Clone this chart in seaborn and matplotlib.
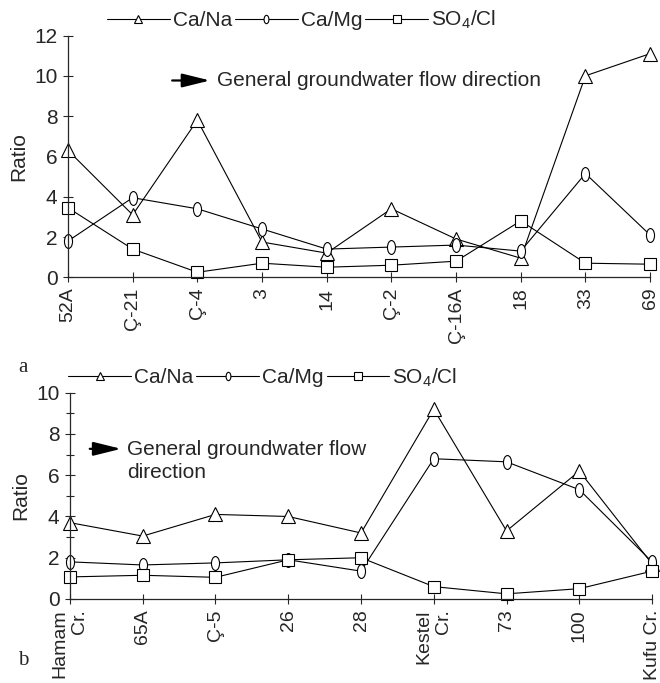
import matplotlib
matplotlib.use("Agg")
import matplotlib.pyplot as plt
import seaborn as sns
import pandas as pd
from matplotlib.path import Path
from matplotlib.transforms import Affine2D
from matplotlib.ticker import MultipleLocator

# Panel a: sites along the flow path
sitios_a = ['52A', 'Ç-21', 'Ç-4', '3', '14', 'Ç-2', 'Ç-16A', '18', '33', '69']
ca_na_a = [6.3, 3.1, 7.8, 1.75, 1.2, 3.4, 1.9, 0.95, 10.0, 11.1]
ca_mg_a = [1.8, 3.95, 3.4, 2.4, 1.4, 1.5, 1.6, 1.3, 5.15, 2.1]
so4_cl_a = [3.45, 1.4, 0.25, 0.7, 0.5, 0.6, 0.8, 2.8, 0.7, 0.65]

# Panel b
sitios_b = ['Hamam\nCr.', '65A', 'Ç-5', '26', '28', 'Kestel\nCr.', '73', '100', 'Kufu Cr.']
ca_na_b = [3.7, 3.05, 4.1, 4.0, 3.2, 9.2, 3.3, 6.2, 1.7]
ca_mg_b = [1.8, 1.65, 1.75, 1.9, 1.35, 6.8, 6.65, 5.3, 1.8]
so4_cl_b = [1.07, 1.15, 1.05, 1.9, 2.0, 0.6, 0.25, 0.5, 1.35]

series = ['Ca/Na', 'Ca/Mg', 'SO$_4$/Cl']

sns.set_style("ticks")
plt.rcParams['font.family'] = ['Liberation Sans', 'DejaVu Sans']
plt.rcParams['mathtext.default'] = 'regular'

# marcador eliptico para Ca/Mg
elipse = Path.unit_circle().transformed(Affine2D().scale(0.58, 1.0))
marcadores = {'Ca/Na': '^', 'Ca/Mg': elipse, 'SO$_4$/Cl': 's'}


def armar_df(sitios, a, b, c):
    return pd.DataFrame({
        'sitio': sitios * 3,
        'valor': a + b + c,
        'ratio': [series[0]] * len(sitios) + [series[1]] * len(sitios) + [series[2]] * len(sitios),
    })


df_a = armar_df(sitios_a, ca_na_a, ca_mg_a, so4_cl_a)
df_b = armar_df(sitios_b, ca_na_b, ca_mg_b, so4_cl_b)

fig = plt.figure(figsize=(6.6, 6.83), dpi=100)
ax1 = fig.add_axes([0.103, 0.594, 0.882, 0.354])
ax2 = fig.add_axes([0.106, 0.123, 0.882, 0.302])


def dibujar(ax, df, sitios, ymax, flecha, texto, pos_texto, x_leyenda, menores):
    sns.lineplot(data=df, x='sitio', y='valor', style='ratio', markers=marcadores,
                 dashes=False, color='black', linewidth=0.8, markersize=10,
                 markerfacecolor='white', markeredgecolor='black', markeredgewidth=0.8,
                 sort=False, legend=False, ax=ax)
    ax.lines[2].set_markersize(8.5)
    ax.set_xlim(0, len(sitios) - 1)
    ax.set_ylim(0, ymax)
    ax.yaxis.set_major_locator(MultipleLocator(2))
    if menores:
        ax.yaxis.set_minor_locator(MultipleLocator(1))
        ax.tick_params(axis='y', which='minor', direction='inout', length=6, width=0.8)
    ax.set_xticks(range(len(sitios)))
    ax.set_xticklabels(sitios, rotation=90, fontsize=14, ma='right')
    ax.tick_params(axis='y', which='major', direction='inout', length=7, width=0.8, labelsize=15, pad=4)
    ax.tick_params(axis='x', direction='inout', length=7, width=0.8, pad=4)
    ax.set_xlabel('')
    ax.set_ylabel('Ratio', fontsize=15)
    for s in ['top', 'right']:
        ax.spines[s].set_visible(False)
    for s in ['left', 'bottom']:
        ax.spines[s].set_linewidth(0.9)
    for ln in ax.lines:
        ln.set_clip_on(False)

    # flecha de direccion de flujo
    ax.annotate('', xy=(flecha[1], flecha[2]), xytext=(flecha[0], flecha[2]),
                xycoords='axes fraction',
                arrowprops=dict(arrowstyle='-|>,head_length=1.7,head_width=0.42',
                                color='black', lw=1.6, shrinkA=0, shrinkB=0))
    ax.text(pos_texto[0], pos_texto[1], texto, transform=ax.transAxes,
            fontsize=15, ha='left', va='center', linespacing=1.25)

    # leyenda arriba
    handles = ax.lines[:3]
    ax.legend(handles, series, loc='lower left', bbox_to_anchor=(x_leyenda, 1.0),
              ncol=3, frameon=False, fontsize=15, handlelength=3.0,
              handletextpad=0.15, columnspacing=0.15, markerscale=0.6,
              borderaxespad=0.1, borderpad=0.1)


dibujar(ax1, df_a, sitios_a, 12, (0.179, 0.244, 0.814),
        'General groundwater flow direction', (0.256, 0.814), 0.06, False)
dibujar(ax2, df_b, sitios_b, 10, (0.034, 0.088, 0.728),
        'General groundwater flow\ndirection', (0.098, 0.668), -0.01, True)

fig.text(0.027, 0.455, 'a', fontsize=15, family='Liberation Serif')
fig.text(0.027, 0.027, 'b', fontsize=15, family='Liberation Serif')

fig.savefig('out.png', dpi=100)
